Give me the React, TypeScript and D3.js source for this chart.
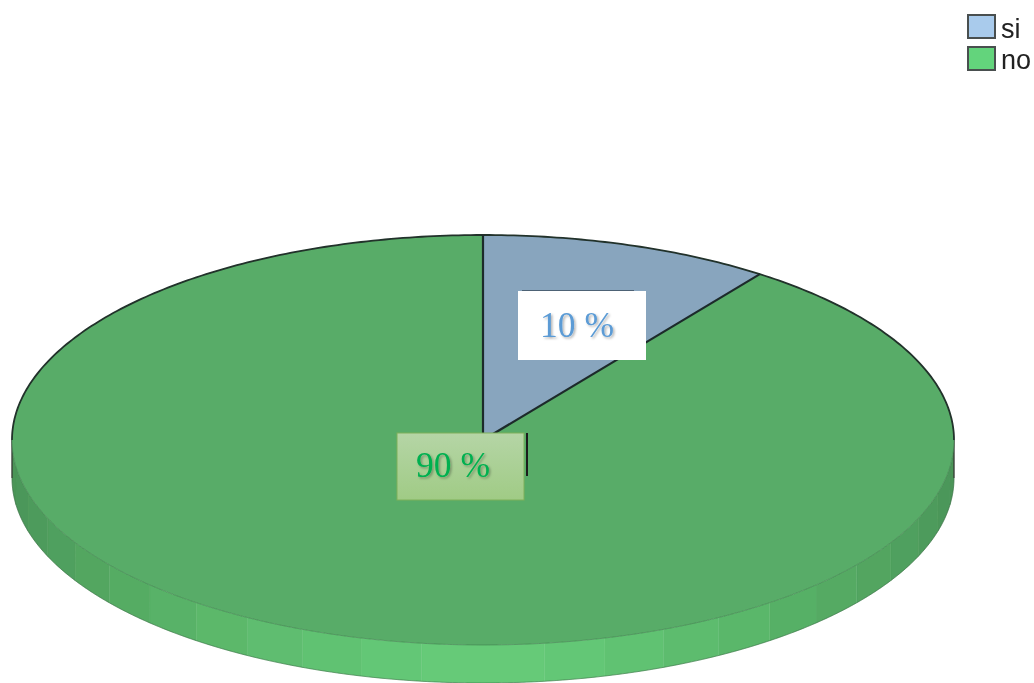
import React from "react";
import * as d3 from "d3";

const categories = ["si", "no"];
const values = [10, 90];
const topColors = ["#88A5BE", "#59AC68"];
const legendColors = ["#A9CBEC", "#64D47C"];
const labels = ["10 %", "90 %"];
const labelColors = ["#5B9BD5", "#00B050"];
const sideShades = [
  "#4B9558", "#4C975A", "#4E9B5B", "#50A05E", "#52A560", "#54AA63",
  "#57B066", "#5AB76A", "#5DBC6E", "#61C272", "#64C776", "#66CA78",
  "#66CA78", "#64C776", "#61C272", "#5EBD6F", "#5BB86B", "#58B267",
  "#55AC64", "#53A661", "#50A05E", "#4E9B5B", "#4C975A", "#4B9558",
];

const W = 1034, H = 683;
const cx = 483, cy = 440, rx = 471, ry = 205, depth = 38;

const xs = d3.scaleLinear().domain([-1, 1]).range([cx - rx, cx + rx]);
const ys = d3.scaleLinear().domain([-1, 1]).range([cy - ry, cy + ry]);

const rimPoints = (a0: number, a1: number, dy = 0, n = 240): [number, number][] =>
  d3.range(0, n + 1).map((i) => {
    const a = a0 + ((a1 - a0) * i) / n;
    return [xs(Math.sin(a)), ys(-Math.cos(a)) + dy] as [number, number];
  });

const line = d3.line();
const arcs = d3.pie<number>().sort(null)(values);
const sideAngle = d3
  .scaleLinear()
  .domain([0, sideShades.length])
  .range([Math.PI / 2, (3 * Math.PI) / 2]);

const wedge = (a0: number, a1: number) =>
  line([[cx, cy], ...rimPoints(a0, a1, 0, 480)])! + "Z";

export default function App() {
  return (
    <svg
      width={W}
      height={H}
      viewBox={`0 0 ${W} ${H}`}
      style={{ position: "absolute", left: 0, top: 0, background: "#fff" }}
    >
      <defs>
        <filter id="soft" x="-2%" y="-2%" width="104%" height="104%">
          <feGaussianBlur stdDeviation="0.6" />
        </filter>
        <filter id="shadow" x="-10%" y="-10%" width="125%" height="130%">
          <feDropShadow dx="1.5" dy="1.5" stdDeviation="1.2" floodColor="#000" floodOpacity="0.3" />
        </filter>
        <linearGradient id="greenBox" x1="0" y1="0" x2="0" y2="1">
          <stop offset="0" stopColor="#B5D5A6" />
          <stop offset="1" stopColor="#A0CB85" />
        </linearGradient>
      </defs>

      <g filter="url(#soft)">
        {sideShades.map((c, i) => {
          const a0 = sideAngle(i);
          const a1 = sideAngle(i + 1);
          return (
            <path
              key={i}
              d={line([...rimPoints(a0, a1, 0, 24), ...rimPoints(a1, a0, depth, 24)])! + "Z"}
              fill={c}
              stroke={c}
              strokeWidth={0.4}
            />
          );
        })}
        <path
          d={line(rimPoints(Math.PI / 2, (3 * Math.PI) / 2, depth))!}
          fill="none"
          stroke="#2f5c38"
          strokeOpacity={0.6}
          strokeWidth={0.8}
        />
        <path d={line([[xs(-1), cy], [xs(-1), cy + depth]])!} stroke="#333" strokeWidth={1.2} />
        <path d={line([[xs(1), cy], [xs(1), cy + depth]])!} stroke="#333" strokeWidth={1.2} />

        {arcs.map((d, i) => (
          <path key={categories[i]} d={wedge(d.startAngle, d.endAngle)} fill={topColors[i]} />
        ))}
        <path
          d={line(rimPoints(Math.PI / 2, (3 * Math.PI) / 2))!}
          fill="none"
          stroke="#3c7a49"
          strokeOpacity={0.7}
          strokeWidth={0.8}
        />
        <path
          d={line(rimPoints(-Math.PI / 2, Math.PI / 2))!}
          fill="none"
          stroke="#20302a"
          strokeWidth={1.8}
        />
        <path
          d={line([
            [xs(Math.sin(arcs[0].endAngle)), ys(-Math.cos(arcs[0].endAngle))],
            [cx, cy],
            [cx, ys(-1)],
          ])!}
          fill="none"
          stroke="#1d2a2a"
          strokeWidth={2.2}
        />

        <line x1={527} y1={433} x2={527} y2={476} stroke="#1a1a1a" strokeWidth={2} />
        <line x1={522} y1={290.5} x2={634} y2={290.5} stroke="#4d6275" strokeWidth={1} />
        <rect x={518} y={291} width={128} height={69} fill="#fff" />
        <rect x={397} y={433} width={127} height={67} fill="url(#greenBox)" stroke="#7FB05A" strokeWidth={1} />

        {categories.map((c, i) => (
          <g key={c}>
            <rect
              x={968}
              y={15 + i * 32}
              width={27}
              height={23}
              fill={legendColors[i]}
              stroke="#4a4f50"
              strokeWidth={2}
            />
            <text x={1001} y={38 + i * 31} fontFamily="Liberation Sans" fontSize={27} fill="#222">
              {c}
            </text>
          </g>
        ))}
      </g>

      {labels.map((l, i) => (
        <text
          key={l}
          x={i === 0 ? 540 : 416}
          y={i === 0 ? 337 : 477}
          fontFamily="Liberation Serif"
          fontSize={35.5}
          fill={labelColors[i]}
          filter="url(#shadow)"
        >
          {l}
        </text>
      ))}
    </svg>
  );
}
